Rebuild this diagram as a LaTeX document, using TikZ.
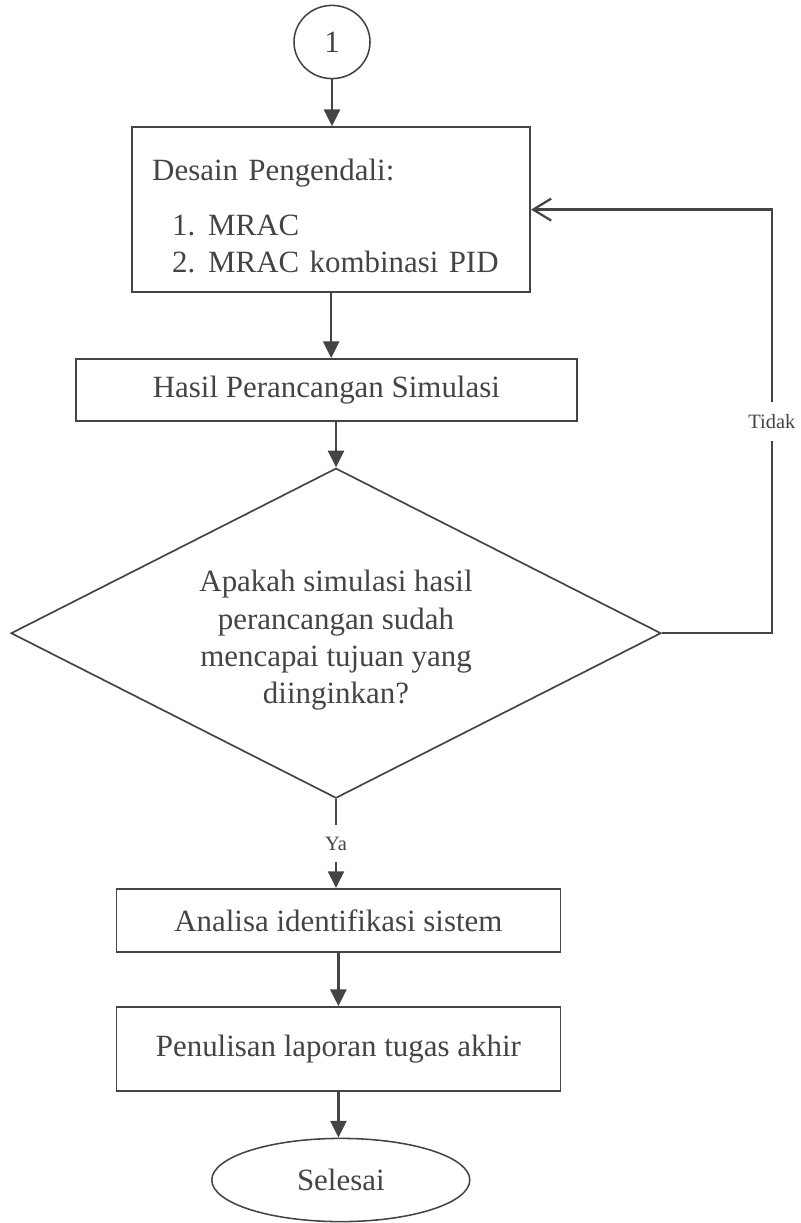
\documentclass[tikz,border=0pt]{standalone}
\usepackage{fontspec}
\setmainfont{Liberation Serif}
\usetikzlibrary{arrows.meta,shapes.geometric,positioning}
\definecolor{ink}{HTML}{444444}

\begin{document}
\begin{tikzpicture}[
  box/.style={rectangle, draw=ink, line width=1.2pt, text=ink, align=center},
  term/.style={ellipse, draw=ink, line width=1.1pt, text=ink, inner sep=0pt},
  decision/.style={diamond, draw=ink, line width=1.2pt, text=ink, align=center, inner sep=0pt, aspect=1.97},
  arr/.style={-{Triangle[length=0.42cm,width=0.4cm]}, line width=1.8pt, draw=ink},
  back/.style={-{Straight Barb[length=0.45cm,width=0.55cm]}, line width=1.6pt, draw=ink},
  lbl/.style={fill=white, text=ink, font=\fontsize{14.5}{17}\selectfont, inner xsep=2pt, inner ysep=0.3cm},
  font=\fontsize{22}{26.5}\selectfont
]
\useasboundingbox (0,0) rectangle (20,-30.575);

% Start connector
\node[term, minimum width=1.9cm, minimum height=1.83cm] (start) at (8.3,-1.05) {1};

% Controller design
\node[box, minimum width=9.95cm, minimum height=4.125cm, inner xsep=0.5cm, text width=8.95cm, align=left] (design) at (8.28,-5.24)
  {\rule{0pt}{0.85cm}Desain Pengendali:\\[0.45cm]
   \hspace*{0.5cm}\makebox[0.9cm][l]{1.}MRAC\\
   \hspace*{0.5cm}\makebox[0.9cm][l]{2.}MRAC kombinasi PID};

% Simulation result
\node[box, minimum width=12.525cm, minimum height=1.55cm] (result) at (8.16,-9.75) {Hasil Perancangan Simulasi};

% Check
\node[decision, minimum width=16.25cm, minimum height=8.25cm] (check) at (8.4,-15.83)
  {\rule{0pt}{0.9cm}Apakah simulasi hasil\\perancangan sudah\\mencapai tujuan yang\\diinginkan?};

% Identification
\node[box, minimum width=11.1cm, minimum height=1.575cm] (ident) at (8.46,-23.01) {Analisa identifikasi sistem};

% Report
\node[box, minimum width=11.1cm, minimum height=2.1cm] (report) at (8.46,-26.225) {Penulisan laporan tugas akhir};

% End
\node[term, minimum width=6.45cm, minimum height=2.08cm] (stop) at (8.52,-29.5) {Selesai};

% Arrows
\draw[arr] (start.south) -- (start.south |- design.north);
\draw[arr] (design.south) -- (design.south |- result.north);
\draw[arr] (check.north |- result.south) -- (check.north);
\draw[arr] (check.south) -- node[lbl] {Ya} (check.south |- ident.north);
\draw[arr] (ident.south -| report.north) -- (report.north);
\draw[arr] (report.south) -- (report.south |- stop.north);

% Feedback loop
\coordinate[right=2.75cm of check.east] (ret);
\draw[back] (check.east) -- (ret) |- node[lbl, pos=0.25] {Tidak} (design.east);

\end{tikzpicture}
\end{document}
